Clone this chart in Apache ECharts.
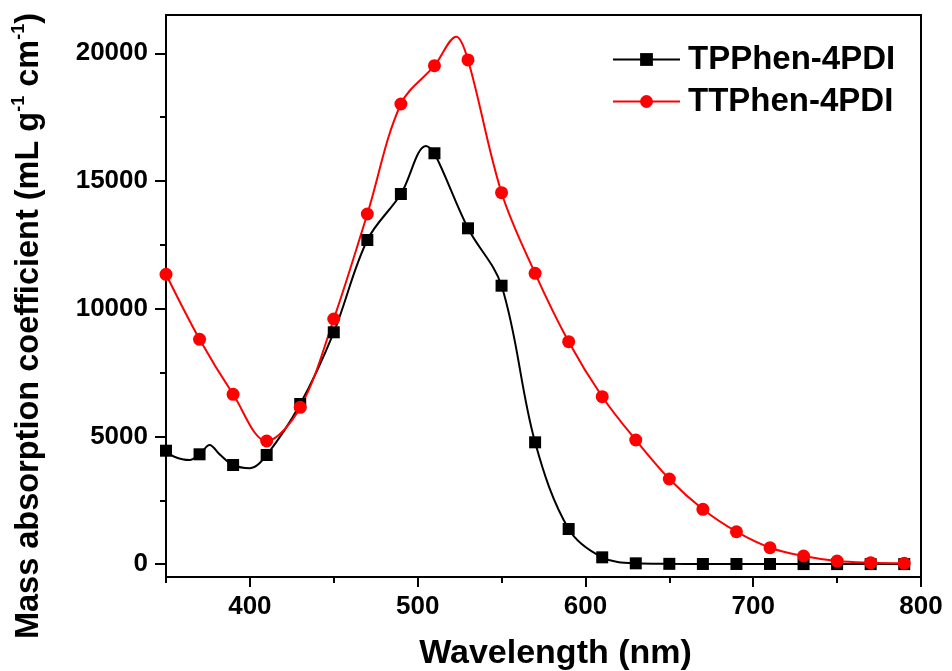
<!DOCTYPE html>
<html><head><meta charset="utf-8">
<script src="https://cdn.jsdelivr.net/npm/echarts@6/dist/echarts.min.js"></script>
<style>html,body{margin:0;padding:0;background:#fff}#c{width:952px;height:671px}</style>
</head><body><div id="c"></div>
<script>
// ---- data ----
const seriesNames = ['TPPhen-4PDI', 'TTPhen-4PDI'];
const markWavelengths = [350,370,390,410,430,450,470,490,510,530,550,570,590,610,630,650,670,690,710,730,750,770,790];
const tpphenMarks = [4444,4303,3884,4275,6272,9079,12692,14493,16087,13150,10903,4772,1378,270,35,15,10,10,10,5,5,5,5];
const ttphenMarks = [11350,8805,6652,4823,6143,9600,13710,18017,19516,19740,14544,11389,8711,6558,4862,3336,2149,1272,646,321,125,59,35];
// extra points (no markers there)
const tpphenDetail = [[355,4208],[364,4080],[376,4667],[382,4300],[400,3760],[505,16372]];
const ttphenDetail = [[523,20650]];
const xTickLabels = [400,500,600,700,800];
const yTickLabels = [0,5000,10000,15000,20000];

// ---- layout ----
const W = 952, H = 671;
const L = 166, R = 921, T = 15, B = 577;
const xMin = 350, xMax = 800, yMin = -500, yMax = 21500;
const xPx = v => L + (v - xMin) * (R - L) / (xMax - xMin);
const yPx = v => B - (v - yMin) * (B - T) / (yMax - yMin);
const FONT = '"Liberation Sans", Arial, sans-serif';

function build(marks, detail) {
  const pts = markWavelengths.map((w, i) => [w, marks[i], true]).concat(detail.map(d => [d[0], d[1], false]));
  pts.sort((a, b) => a[0] - b[0]);
  return pts;
}
const blackPts = build(tpphenMarks, tpphenDetail);
const redPts = build(ttphenMarks, ttphenDetail);

const chart = echarts.init(document.getElementById('c'), null, {renderer: 'canvas'});
const labelStyle = {color: '#000', fontWeight: 'bold', fontFamily: FONT, fontSize: 26, formatter: v => String(v)};
const gridBase = {containLabel: false, outerBoundsMode: 'none'};
chart.setOption({
  animation: false,
  backgroundColor: '#fff',
  grid: [
    Object.assign({left: L, right: W - R, top: T, bottom: H - B, show: true, borderColor: '#000', borderWidth: 2}, gridBase),
    Object.assign({left: xPx(xTickLabels[0]), right: W - R, top: T, bottom: H - B}, gridBase),
    Object.assign({left: L, right: W - R, top: yPx(yTickLabels[yTickLabels.length - 1]), bottom: H - yPx(yTickLabels[0])}, gridBase)
  ],
  xAxis: [
    {type: 'value', gridIndex: 0, min: xMin, max: xMax, interval: 50,
      axisLine: {onZero: false, lineStyle: {color: '#000', width: 2}},
      axisTick: {length: 6, lineStyle: {color: '#000', width: 2}},
      axisLabel: {show: false}, splitLine: {show: false},
      name: 'Wavelength (nm)', nameLocation: 'middle', nameGap: 60,
      nameTextStyle: {color: '#000', fontWeight: 'bold', fontFamily: FONT, fontSize: 34, padding: [0, 0, 0, 24]}},
    {type: 'value', gridIndex: 1, min: xTickLabels[0], max: xTickLabels[xTickLabels.length - 1], interval: 100,
      axisLine: {show: false, onZero: false},
      axisTick: {length: 10, lineStyle: {color: '#000', width: 2}},
      axisLabel: Object.assign({margin: 17}, labelStyle), splitLine: {show: false}},
    {type: 'value', gridIndex: 2, show: false, min: 0, max: 1}
  ],
  yAxis: [
    {type: 'value', gridIndex: 0, min: yMin, max: yMax,
      axisLine: {show: true, onZero: false, lineStyle: {color: '#000', width: 2}},
      axisTick: {show: false}, axisLabel: {show: false}, splitLine: {show: false},
      name: '{b|Mass absorption coefficient (mL g}{s|-1}{b| cm}{s|-1}{b|)}',
      nameLocation: 'middle', nameGap: 120,
      nameTextStyle: {padding: [0, 60, 0, 0], rich: {
        b: {color: '#000', fontWeight: 'bold', fontFamily: FONT, fontSize: 32.5, lineHeight: 36, verticalAlign: 'bottom'},
        s: {color: '#000', fontWeight: 'bold', fontFamily: FONT, fontSize: 18, lineHeight: 36, verticalAlign: 'top'}
      }}},
    {type: 'value', gridIndex: 1, show: false, min: 0, max: 1},
    {type: 'value', gridIndex: 2, min: yTickLabels[0], max: yTickLabels[yTickLabels.length - 1], interval: 5000,
      axisLine: {show: false, onZero: false},
      axisTick: {length: 11, lineStyle: {color: '#000', width: 2}},
      minorTick: {show: true, splitNumber: 2, length: 6, lineStyle: {color: '#000', width: 2}},
      axisLabel: Object.assign({margin: 18}, labelStyle), splitLine: {show: false}}
  ],
  legend: {
    orient: 'vertical', left: 612, top: 43, padding: 0, itemWidth: 67, itemHeight: 16, itemGap: 9,
    textStyle: {color: '#000', fontWeight: 'bold', fontFamily: FONT, fontSize: 33, padding: [0, 0, 0, 3]},
    data: seriesNames
  },
  series: [
    {name: seriesNames[0], type: 'line', xAxisIndex: 0, yAxisIndex: 0, smooth: 0.35, showAllSymbol: true,
      symbol: 'rect', color: '#000',
      lineStyle: {color: '#000', width: 2}, itemStyle: {color: '#000'},
      data: blackPts.map(p => ({value: [p[0], p[1]], symbol: p[2] ? 'rect' : 'none', symbolSize: 12}))},
    {name: seriesNames[1], type: 'line', xAxisIndex: 0, yAxisIndex: 0, smooth: 0.35, showAllSymbol: true,
      symbol: 'circle', color: '#ff0000',
      lineStyle: {color: '#ff0000', width: 2}, itemStyle: {color: '#ff0000'},
      data: redPts.map(p => ({value: [p[0], p[1]], symbol: p[2] ? 'circle' : 'none', symbolSize: 13}))}
  ]
});
</script></body></html>
